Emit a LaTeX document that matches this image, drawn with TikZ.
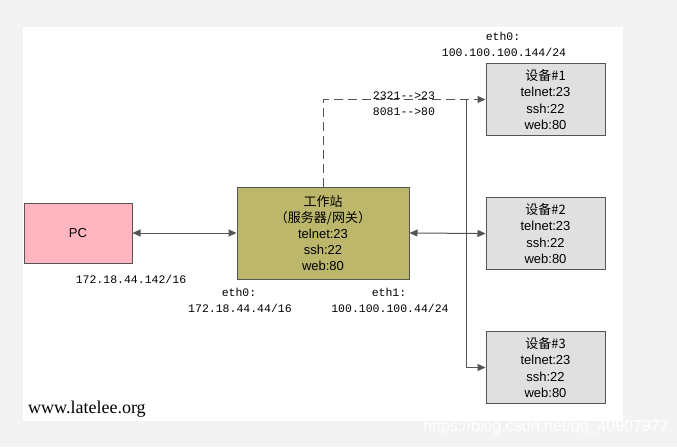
\documentclass[tikz,border=0pt]{standalone}
\usepackage{fontspec}
\setmainfont{Liberation Sans}
\newfontfamily\cjkf{Noto Sans CJK SC}
\newfontfamily\monof{Liberation Mono}
\newfontfamily\serf{Liberation Serif}
\usetikzlibrary{arrows.meta}
\definecolor{bggray}{HTML}{F3F3F3}
\definecolor{edgegray}{HTML}{555555}
\definecolor{pcpink}{HTML}{FFB6C1}
\definecolor{wskhaki}{HTML}{BDB76B}
\definecolor{devgray}{HTML}{E0E0E0}
\begin{document}
\begin{tikzpicture}[x=1pt,y=-1pt,
  box/.style={draw=edgegray, line width=1pt, inner sep=0pt, align=center,
    font=\fontsize{13}{16.2}\selectfont},
  devbox/.style={box, fill=devgray, minimum width=119pt, minimum height=72pt},
  conn/.style={draw=edgegray, line width=1pt},
  tipend/.style={-{Triangle[length=8pt,width=7pt]}},
  tipboth/.style={{Triangle[length=8pt,width=7pt]}-{Triangle[length=8pt,width=7pt]}},
  dashline/.style={dash pattern=on 9pt off 5pt},
  lbl/.style={font=\monof\fontsize{11.5}{14}\selectfont, inner sep=0pt}]
\useasboundingbox (0,0) rectangle (677,447);
\fill[bggray] (0,0) rectangle (677,447);
\fill[white] (23,27) rectangle (623,421);

% nodes
\node[box, fill=pcpink, minimum width=108pt, minimum height=60pt] (pc) at (78,233) {PC};
\node[box, fill=wskhaki, minimum width=172pt, minimum height=92pt] (ws) at (323,233)
  {{\cjkf 工作站}\\{\cjkf （服务器/网关）}\\telnet:23\\ssh:22\\web:80};
\node[devbox] (d1) at (545.5,99.5) {{\cjkf 设备\#1}\\telnet:23\\ssh:22\\web:80};
\node[devbox] (d2) at (545.5,233.5) {{\cjkf 设备\#2}\\telnet:23\\ssh:22\\web:80};
\node[devbox] (d3) at (545.5,367.5) {{\cjkf 设备\#3}\\telnet:23\\ssh:22\\web:80};

% connectors
\coordinate (jt) at (466,99.5);
\coordinate (jb) at (466,367.5);
\draw[conn, tipboth] (pc.east) -- (ws.west);
\draw[conn, tipboth] (ws.east) -- (d2.west);
\draw[conn] (jt) -- (jb);
\draw[conn, tipend] (jb) -- (d3.west);
\draw[conn, dashline, tipend] (ws.north) |- (d1.west);

% labels
\node[lbl] (l1) at (503,36) {eth0:};
\node[lbl] (l2) at (504,52) {100.100.100.144/24};
\node[lbl] (l3) at (404,96) {2321-->23};
\node[lbl] (l4) at (404,112) {8081-->80};
\node[lbl] (l5) at (131,279) {172.18.44.142/16};
\node[lbl] (l6) at (239,292) {eth0:};
\node[lbl] (l7) at (240,308) {172.18.44.44/16};
\node[lbl] (l8) at (389,292) {eth1:};
\node[lbl] (l9) at (390,308) {100.100.100.44/24};
\node[anchor=base west, inner sep=0pt, font=\serf\fontsize{18}{20}\selectfont] (site) at (28,413) {www.latelee.org};
\node[inner sep=0pt, text=white, font=\fontsize{16}{18}\selectfont] (wm) at (546,427) {https://blog.csdn.net/qq\_40907977};
\end{tikzpicture}
\end{document}
